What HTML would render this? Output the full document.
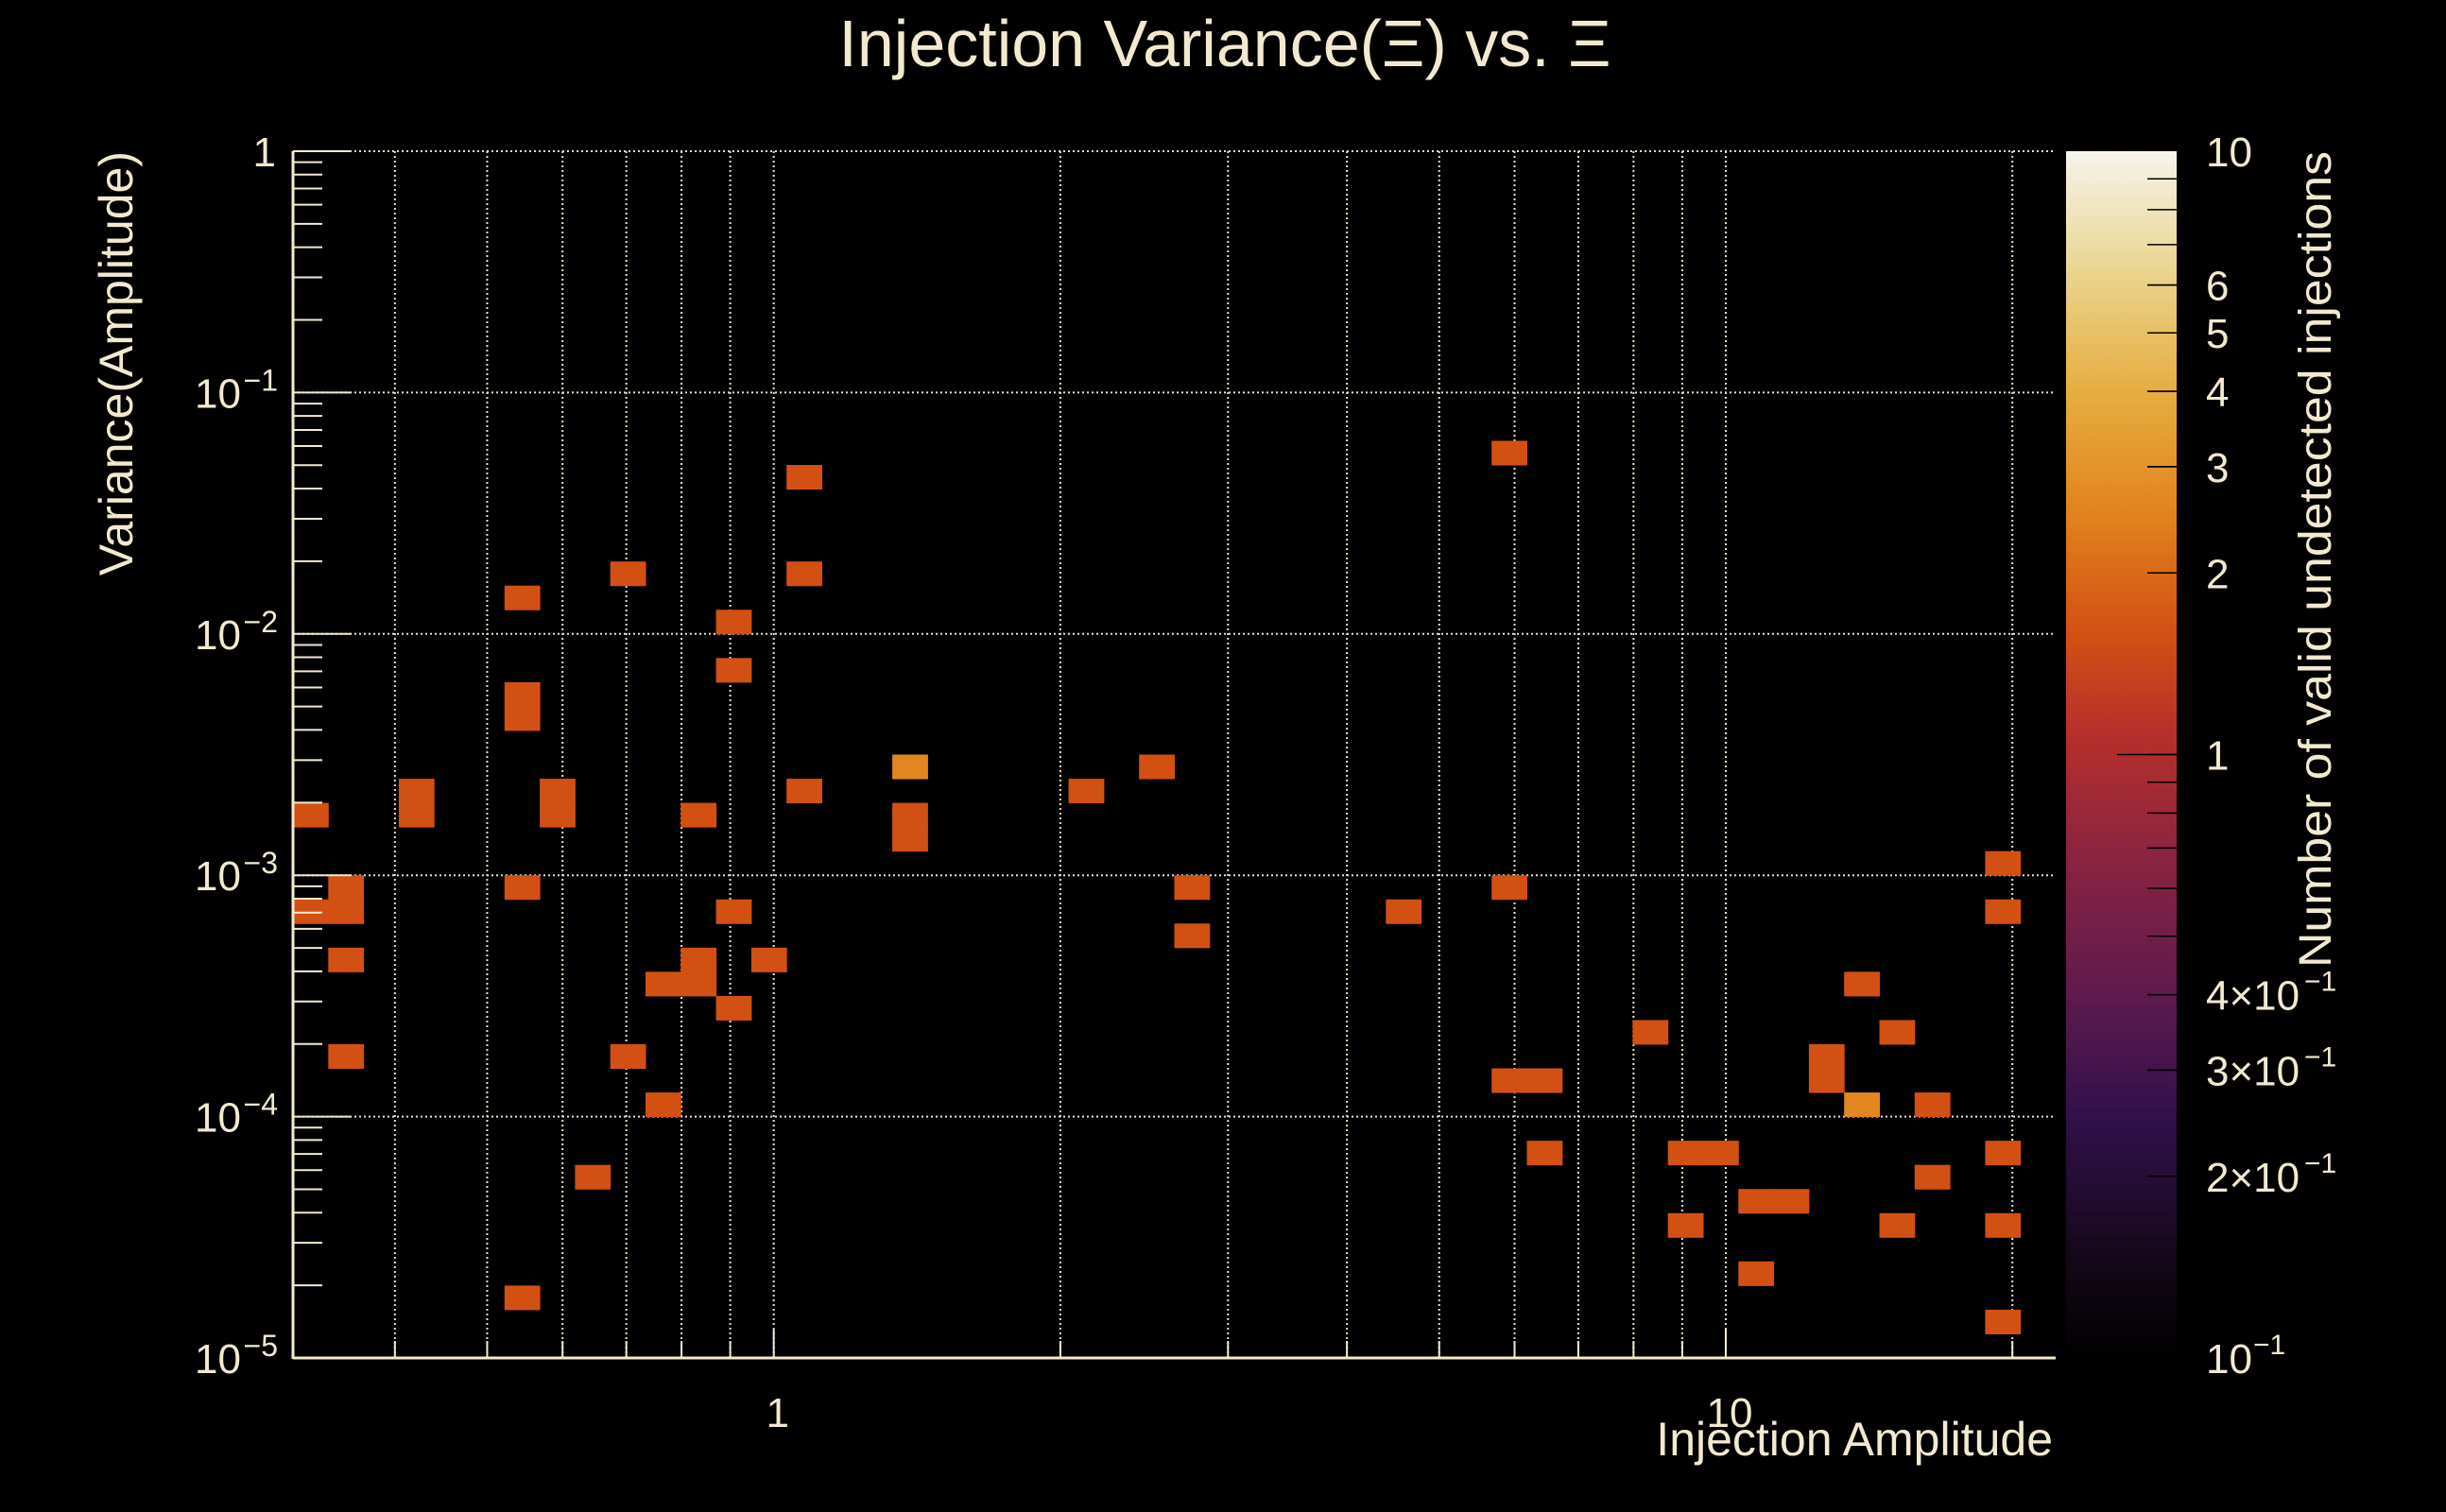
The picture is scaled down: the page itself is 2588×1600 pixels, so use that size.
<!DOCTYPE html>
<html><head><meta charset="utf-8"><style>
html,body{margin:0;padding:0;background:#000;}
svg{display:block;}
text{font-family:"Liberation Sans",sans-serif;fill:#f3e9cf;}
</style></head><body>
<svg id="chart" width="2588" height="1600" viewBox="0 0 2588 1600" xmlns="http://www.w3.org/2000/svg">
<defs>
<linearGradient id="cmap" x1="0" y1="1" x2="0" y2="0">
<stop offset="0" stop-color="#000000"/>
<stop offset="0.08" stop-color="#140818"/>
<stop offset="0.2" stop-color="#32104a"/>
<stop offset="0.3" stop-color="#5e1a4e"/>
<stop offset="0.42" stop-color="#8c2440"/>
<stop offset="0.52" stop-color="#b8302a"/>
<stop offset="0.6" stop-color="#d35013"/>
<stop offset="0.7" stop-color="#e2831e"/>
<stop offset="0.8" stop-color="#e6ad40"/>
<stop offset="0.9" stop-color="#ead48e"/>
<stop offset="1" stop-color="#f6f4ec"/>
</linearGradient>
</defs>
<g id="grid"></g>
<g id="cells"></g>
<g id="axes"></g>
<text x="1296" y="70" font-size="70" text-anchor="middle">Injection Variance(Ξ) vs. Ξ</text>
<text x="2172" y="1540" font-size="50" text-anchor="end">Injection Amplitude</text>
<text transform="translate(140,160) rotate(-90)" font-size="50" text-anchor="end">Variance(Amplitude)</text>
<rect x="2186" y="160" width="117" height="1277" fill="url(#cmap)"/>
<g id="cbar"></g>
<text transform="translate(2466,160) rotate(-90)" font-size="48" text-anchor="end" textLength="864" lengthAdjust="spacingAndGlyphs">Number of valid undetected injections</text>
</svg>
<script>
const amplitude = [0.326,0.326,0.355,0.355,0.355,0.355,0.421,0.421,0.544,0.544,0.544,0.544,0.544,0.592,0.592,0.645,0.703,0.703,0.765,0.765,0.833,0.833,0.833,0.908,0.908,0.908,0.908,0.988,1.076,1.076,1.076,1.390,1.390,1.390,2.129,2.525,2.750,2.750,4.586,5.925,5.925,5.925,6.450,6.450,8.330,9.074,9.074,9.88,10.76,11.72,10.76,12.76,12.76,13.90,13.90,15.13,15.13,16.48,16.48,19.54,19.54,19.54,19.54,19.54];
const variance = [1.78e-3,7.08e-4,8.91e-4,7.08e-4,4.47e-4,1.78e-4,2.24e-3,1.78e-3,1.41e-2,5.62e-3,4.47e-3,8.91e-4,1.78e-5,2.24e-3,1.78e-3,5.62e-5,1.78e-2,1.78e-4,3.55e-4,1.12e-4,4.47e-4,3.55e-4,1.78e-3,1.12e-2,7.08e-3,7.08e-4,2.82e-4,4.47e-4,4.47e-2,1.78e-2,2.24e-3,2.82e-3,1.78e-3,1.41e-3,2.24e-3,2.82e-3,8.91e-4,5.62e-4,7.08e-4,5.62e-2,8.91e-4,1.41e-4,1.41e-4,7.08e-5,2.24e-4,3.55e-5,7.08e-5,7.08e-5,4.47e-5,4.47e-5,2.24e-5,1.78e-4,1.41e-4,3.55e-4,1.12e-4,2.24e-4,3.55e-5,1.12e-4,5.62e-5,1.12e-3,7.08e-4,7.08e-5,3.55e-5,1.41e-5];
const counts = [1,1,1,1,1,1,1,1,1,1,1,1,1,1,1,1,1,1,1,1,1,1,1,1,1,1,1,1,1,1,1,2,1,1,1,1,1,1,1,1,1,1,1,1,1,1,1,1,1,1,1,1,1,1,2,1,1,1,1,1,1,1,1,1];
const xGridValues = [0.4,0.5,0.6,0.7,0.8,0.9,1,2,3,4,5,6,7,8,9,10,20];
const xTickLabels = ["1","10"];
const xTickLabelValues = [1,10];
const yDecades = [0,-1,-2,-3,-4,-5];
const yTickLabels = ["1","10","10","10","10","10"];
const cbarTickValues = [10,6,5,4,3,2,1,0.4,0.3,0.2,0.1];
const cbarTickLabels = ["10","6","5","4","3","2","1","4×10","3×10","2×10","10"];
const cbarTickExps = ["","","","","","","","−1","−1","−1","−1"];

const NS="http://www.w3.org/2000/svg";
const X0=310, X1=2175, Y0=160, Y1=1437;
const XLMIN=-0.505, XLMAX=1.3465, YLMIN=-5, YLMAX=0, NBX=50, NBY=50;
function xPix(v){return X0+(Math.log10(v)-XLMIN)/(XLMAX-XLMIN)*(X1-X0);}
function yPix(v){return Y1-(Math.log10(v)-YLMIN)/(YLMAX-YLMIN)*(Y1-Y0);}
function cPix(v){return Y1-(Math.log10(v)+1)/2*(Y1-Y0);}
function mk(tag,attrs,parent){const e=document.createElementNS(NS,tag);for(const k in attrs)e.setAttribute(k,attrs[k]);parent.appendChild(e);return e;}
function colorFor(c){
  const stops=[[0.1,[0,0,0]],[0.3,[94,26,78]],[0.6,[168,48,44]],[1,[211,80,19]],[2,[226,135,31]],[3,[229,170,60]],[5,[233,206,130]],[10,[246,244,236]]];
  for(let i=0;i<stops.length-1;i++){const a=stops[i],b=stops[i+1];
    if(c<=b[0]){const t=(Math.log10(c)-Math.log10(a[0]))/(Math.log10(b[0])-Math.log10(a[0]));
      return 'rgb('+a[1].map((v,k)=>Math.round(v+(b[1][k]-v)*t)).join(',')+')';}}
  return 'rgb(246,244,236)';
}
const grid=document.getElementById('grid'), cells=document.getElementById('cells'), axes=document.getElementById('axes'), cbar=document.getElementById('cbar');
const gstyle={stroke:'#e8e0c8','stroke-width':2,'stroke-dasharray':'2 3'};
xGridValues.forEach(v=>{const x=xPix(v);
  const l=mk('line',Object.assign({x1:x,x2:x,y1:Y0,y2:Y1},gstyle),grid);
  
  
  const t=mk('line',{x1:x,x2:x,y1:Y1,y2:Y1-(v===1||v===10?30:18),stroke:'#f3e9cf','stroke-width':2},axes);
  
  
});
yDecades.forEach(d=>{const y=yPix(Math.pow(10,d));
  const l=mk('line',Object.assign({x1:X0,x2:X1,y1:y,y2:y},gstyle),grid);
  
  
});
const bwx=(X1-X0)/NBX, bwy=(Y1-Y0)/NBY;
for(let k=0;k<amplitude.length;k++){
  const ix=Math.floor((Math.log10(amplitude[k])-XLMIN)/(XLMAX-XLMIN)*NBX);
  const iy=Math.floor((Math.log10(variance[k])-YLMIN)/(YLMAX-YLMIN)*NBY);
  const r=mk('rect',{x:X0+ix*bwx,y:Y1-(iy+1)*bwy,width:bwx+0.5,height:bwy+0.5,fill:colorFor(counts[k])},cells);
  
  
}
mk('line',{x1:X0,x2:X0,y1:Y0,y2:Y1+1,stroke:'#f3e9cf','stroke-width':3},axes);
mk('line',{x1:X0,x2:X1,y1:Y1,y2:Y1,stroke:'#f3e9cf','stroke-width':3},axes);
yDecades.forEach((d,i)=>{
  const y=yPix(Math.pow(10,d));
  mk('line',{x1:X0,x2:X0+62,y1:y,y2:y,stroke:'#f3e9cf','stroke-width':2},axes);
  if(d<0){for(let m=2;m<=9;m++){const yy=yPix(m*Math.pow(10,d));mk('line',{x1:X0,x2:X0+31,y1:yy,y2:yy,stroke:'#f3e9cf','stroke-width':2},axes);}}
  const t=mk('text',{x:d===0?292:255,y:y+16,'font-size':44,'text-anchor':'end'},axes);
  t.textContent=yTickLabels[i];
  
  
  if(d<0){const s=mk('text',{x:294,y:y-2,'font-size':32,'text-anchor':'end'},axes);s.textContent='−'+(-d);
    
    }
});
xTickLabelValues.forEach((v,i)=>{
  const t=mk('text',{x:xPix(v)+4,y:1510,'font-size':44,'text-anchor':'middle'},axes);
  t.textContent=xTickLabels[i];
  
  
});
cbarTickValues.forEach((v,i)=>{
  const y=cPix(v);
  if(v!==10&&v!==0.1){mk('line',{x1:2303,x2:v===1?2240:2272,y1:y,y2:y,stroke:'#000','stroke-width':1.5},cbar);}
  const t=mk('text',{x:2334,y:y+16,'font-size':44},cbar);
  t.textContent=cbarTickLabels[i];
  
  
  if(cbarTickExps[i]){const w=cbarTickLabels[i].length>2?104:50;
    const s=mk('text',{x:2334+w,y:y-4,'font-size':30},cbar);s.textContent=cbarTickExps[i];
    
    }
});
[1,2,3,4,5,6,7,8,9].forEach(m=>{const y=cPix(m);mk('line',{x1:2303,x2:2272,y1:y,y2:y,stroke:'#000','stroke-width':1.5},cbar);});
[0.2,0.3,0.4,0.5,0.6,0.7,0.8,0.9].forEach(m=>{const y=cPix(m);mk('line',{x1:2303,x2:2272,y1:y,y2:y,stroke:'#000','stroke-width':1.5},cbar);});
</script>
</body></html>
